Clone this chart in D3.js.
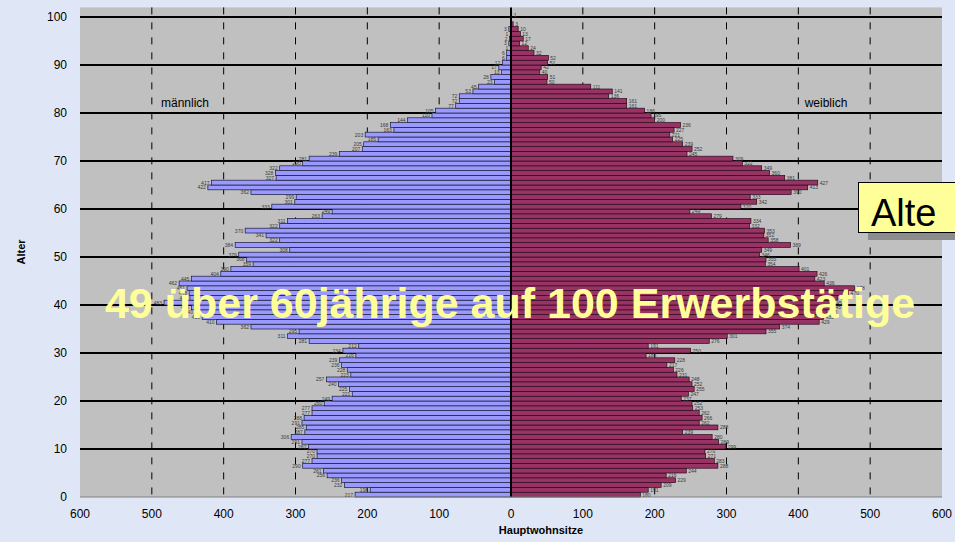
<!DOCTYPE html>
<html>
<head>
<meta charset="utf-8">
<script src="https://cdnjs.cloudflare.com/ajax/libs/d3/7.8.5/d3.min.js"></script>
<style>
  body { margin: 0; background: #dfe7f7; }
  text { font-family: "Liberation Sans", Arial, sans-serif; }
</style>
</head>
<body>
<svg id="chart" width="955" height="542"></svg>
<script>
// Alter 0..100
var ages = d3.range(0, 101);

var maennlich = [
	217, 196, 232, 236, 256, 261, 290, 277, 270, 270,
	282, 291, 306, 287, 285, 291, 288, 277, 277, 260,
	249, 221, 225, 240, 257, 223, 228, 236, 239, 216,
	234, 212, 281, 311, 295, 362, 410, 430, 440, 445,
	483, 447, 448, 451, 462, 445, 404, 390, 359, 368,
	379, 308, 384, 322, 341, 370, 322, 311, 263, 249,
	333, 301, 299, 362, 422, 417, 327, 328, 322, 290,
	281, 239, 207, 205, 185, 203, 163, 168, 144, 110,
	105, 77, 72, 72, 53, 45, 23, 28, 13, 17,
	12, 6, 6, 1, 3, 2, 1, 3, 0, 0,
	0
];

var weiblich = [
	180, 191, 209, 229, 216, 244, 288, 283, 271, 270,
	299, 289, 280, 239, 288, 262, 266, 262, 253, 252,
	237, 247, 255, 252, 248, 231, 226, 217, 228, 188,
	250, 191, 276, 301, 355, 374, 429, 435, 440, 445,
	450, 455, 470, 478, 436, 423, 426, 401, 354, 355,
	346, 349, 389, 358, 352, 353, 332, 334, 279, 249,
	320, 342, 333, 390, 413, 427, 381, 360, 349, 322,
	309, 245, 252, 239, 225, 221, 227, 236, 200, 195,
	186, 161, 161, 136, 141, 111, 50, 51, 40, 42,
	51, 52, 32, 24, 12, 17, 13, 10, 3, 0,
	1
];

var xTicks = [-600, -500, -400, -300, -200, -100, 0, 100, 200, 300, 400, 500, 600];
var yTicks = [0, 10, 20, 30, 40, 50, 60, 70, 80, 90, 100];

var svg = d3.select("#chart"),
	width = +svg.attr("width"),
	height = +svg.attr("height");

var x = d3.scaleLinear().domain([-600, 600]).range([80, 942]);
var y = d3.scaleLinear().domain([0, 102]).range([497, 497 - 102 * 4.8]);
var rowH = y(0) - y(1);

svg.append("rect")
	.attr("width", width)
	.attr("height", height)
	.attr("fill", "#dfe7f7");

// Zeichenflaeche
svg.append("rect")
	.attr("x", x(-600))
	.attr("y", y(102))
	.attr("width", x(600) - x(-600))
	.attr("height", y(0) - y(102))
	.attr("fill", "#c0c0c0");

// senkrechte Hilfslinien
svg.selectAll(".vgrid")
	.data(xTicks.filter(function (d) { return d !== 0 && Math.abs(d) < 600; }))
	.enter()
	.append("line")
	.attr("class", "vgrid")
	.attr("x1", function (d) { return x(d); })
	.attr("x2", function (d) { return x(d); })
	.attr("y1", y(102))
	.attr("y2", y(0))
	.attr("stroke", "#000")
	.attr("stroke-width", 1)
	.attr("stroke-dasharray", "7,8");

// waagrechte Linien alle 10 Jahre
svg.selectAll(".hgrid")
	.data(yTicks.filter(function (d) { return d > 0; }))
	.enter()
	.append("line")
	.attr("class", "hgrid")
	.attr("x1", x(-600))
	.attr("x2", x(600))
	.attr("y1", function (d) { return y(d); })
	.attr("y2", function (d) { return y(d); })
	.attr("stroke", "#000")
	.attr("stroke-width", 2);

// Balken
svg.selectAll(".bar-m")
	.data(ages)
	.enter()
	.append("rect")
	.attr("class", "bar-m")
	.attr("x", function (d) { return x(-maennlich[d]); })
	.attr("y", function (d) { return y(d + 1); })
	.attr("width", function (d) { return x(0) - x(-maennlich[d]); })
	.attr("height", rowH)
	.attr("fill", "#9999ff")
	.attr("stroke", "#1a1a33")
	.attr("stroke-width", 0.7);

svg.selectAll(".bar-w")
	.data(ages)
	.enter()
	.append("rect")
	.attr("class", "bar-w")
	.attr("x", x(0))
	.attr("y", function (d) { return y(d + 1); })
	.attr("width", function (d) { return x(weiblich[d]) - x(0); })
	.attr("height", rowH)
	.attr("fill", "#993366")
	.attr("stroke", "#2a0a18")
	.attr("stroke-width", 0.7);

// Werte an den Balken
svg.selectAll(".lab-m")
	.data(ages.filter(function (d) { return maennlich[d] > 0; }))
	.enter()
	.append("text")
	.attr("class", "lab-m")
	.attr("x", function (d) { return x(-maennlich[d]) - 2; })
	.attr("y", function (d) { return y(d + 0.5) + 2; })
	.attr("text-anchor", "end")
	.attr("font-size", "5px")
	.attr("fill", "#3a3a3a")
	.text(function (d) { return maennlich[d]; });

svg.selectAll(".lab-w")
	.data(ages.filter(function (d) { return weiblich[d] > 0; }))
	.enter()
	.append("text")
	.attr("class", "lab-w")
	.attr("x", function (d) { return x(weiblich[d]) + 2; })
	.attr("y", function (d) { return y(d + 0.5) + 2; })
	.attr("font-size", "5px")
	.attr("fill", "#3a3a3a")
	.text(function (d) { return weiblich[d]; });

// Mittelachse und x-Achse
svg.append("line")
	.attr("x1", x(0)).attr("x2", x(0))
	.attr("y1", y(102)).attr("y2", y(0))
	.attr("stroke", "#000")
	.attr("stroke-width", 2);

svg.append("line")
	.attr("x1", x(-600)).attr("x2", x(600))
	.attr("y1", y(0)).attr("y2", y(0))
	.attr("stroke", "#808080")
	.attr("stroke-width", 1);

// Achsenbeschriftung
svg.selectAll(".xtick")
	.data(xTicks)
	.enter()
	.append("text")
	.attr("class", "xtick")
	.attr("x", function (d) { return x(d); })
	.attr("y", 518)
	.attr("text-anchor", "middle")
	.attr("font-size", "12px")
	.attr("fill", "#000")
	.text(function (d) { return Math.abs(d); });

svg.selectAll(".ytick")
	.data(yTicks)
	.enter()
	.append("text")
	.attr("class", "ytick")
	.attr("x", 67)
	.attr("y", function (d) { return y(d) + 4; })
	.attr("text-anchor", "end")
	.attr("font-size", "12px")
	.attr("fill", "#000")
	.text(function (d) { return d; });

svg.append("text")
	.attr("x", 541)
	.attr("y", 534)
	.attr("text-anchor", "middle")
	.attr("font-size", "11px")
	.attr("font-weight", "bold")
	.text("Hauptwohnsitze");

svg.append("text")
	.attr("transform", "translate(25,252) rotate(-90)")
	.attr("text-anchor", "middle")
	.attr("font-size", "11px")
	.attr("font-weight", "bold")
	.text("Alter");

svg.append("text")
	.attr("x", 185)
	.attr("y", 107)
	.attr("text-anchor", "middle")
	.attr("font-size", "12px")
	.text("männlich");

svg.append("text")
	.attr("x", 826)
	.attr("y", 107)
	.attr("text-anchor", "middle")
	.attr("font-size", "12px")
	.text("weiblich");

// Hinweis-Kasten rechts
svg.append("rect")
	.attr("x", 868).attr("y", 190)
	.attr("width", 100).attr("height", 50)
	.attr("fill", "#8c8c8c");
svg.append("rect")
	.attr("x", 858.5).attr("y", 182.5)
	.attr("width", 110).attr("height", 50)
	.attr("fill", "#ffff99")
	.attr("stroke", "#000")
	.attr("stroke-width", 1);
svg.append("text")
	.attr("x", 871)
	.attr("y", 226)
	.attr("font-size", "38px")
	.text("Alte");

// grosse gelbe Aussage
svg.append("text")
	.attr("x", 510)
	.attr("y", 318)
	.attr("text-anchor", "middle")
	.attr("font-size", "43px")
	.attr("font-weight", "bold")
	.attr("fill", "#ffff99")
	.text("49 über 60jährige auf 100 Erwerbstätige");
</script>
</body>
</html>
